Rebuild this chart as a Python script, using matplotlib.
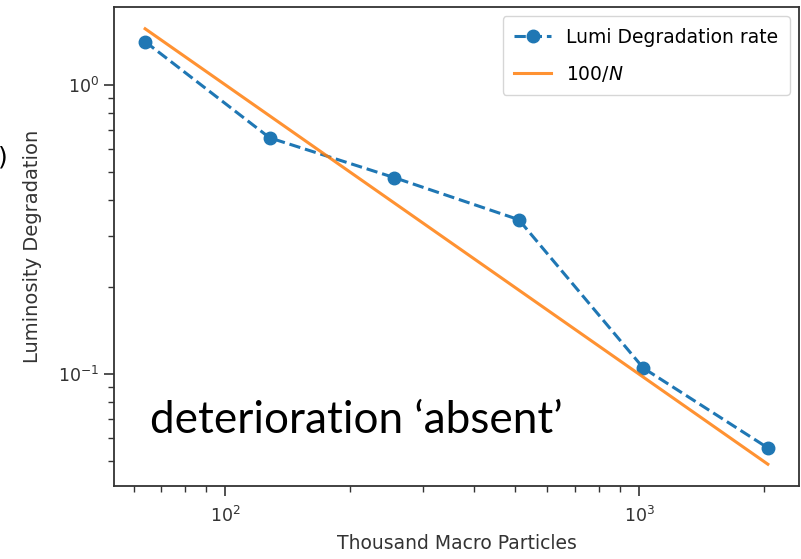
import matplotlib
matplotlib.use("Agg")
import matplotlib.pyplot as plt

# thousand macro particles
particles = [64, 128, 256, 512, 1024, 2048]
# luminosity degradation per run
lumi_degradation = [1.41, 0.656, 0.478, 0.342, 0.105, 0.0556]
# reference curve 100/N
reference = [100.0 / n for n in particles]

fig = plt.figure(figsize=(8.01, 5.59), dpi=100)
ax = fig.add_axes([114 / 801, 73 / 559, 685 / 801, 479 / 559])

ax.plot(particles, lumi_degradation, "o--", color="#1f77b4", linewidth=2.2,
        markersize=9, label="Lumi Degradation rate")
ax.plot(particles, reference, "-", color="#ff7f0e", linewidth=2.2, alpha=0.85,
        label="100/$N$")
ax.set_xscale("log")
ax.set_yscale("log")

for spine in ax.spines.values():
    spine.set_linewidth(1.3)
    spine.set_color("#333333")
ax.tick_params(which="major", length=7, width=1.2, labelsize=12.5, colors="#333333")
ax.tick_params(which="minor", length=4, width=1.0, colors="#333333")
ax.tick_params(axis="x", which="major", pad=7)

ax.set_xlabel("Thousand Macro Particles", fontsize=13.5, color="#333333", labelpad=6)
ax.set_ylabel("Luminosity Degradation", fontsize=14, color="#333333", labelpad=12)
ax.legend(loc="upper right", fontsize=13.5, labelspacing=0.9, borderpad=0.6)

ax.text(0.0526, 0.111, "deterioration \u2018absent\u2019", transform=ax.transAxes,
        fontsize=31.7, family="Lato", color="black", ha="left", va="baseline")

# bracket of a panel label left over at the left edge
fig.text(-0.002, 1 - 165 / 559, ")", fontsize=18, ha="left", va="baseline")

fig.savefig("out.png", dpi=100)
